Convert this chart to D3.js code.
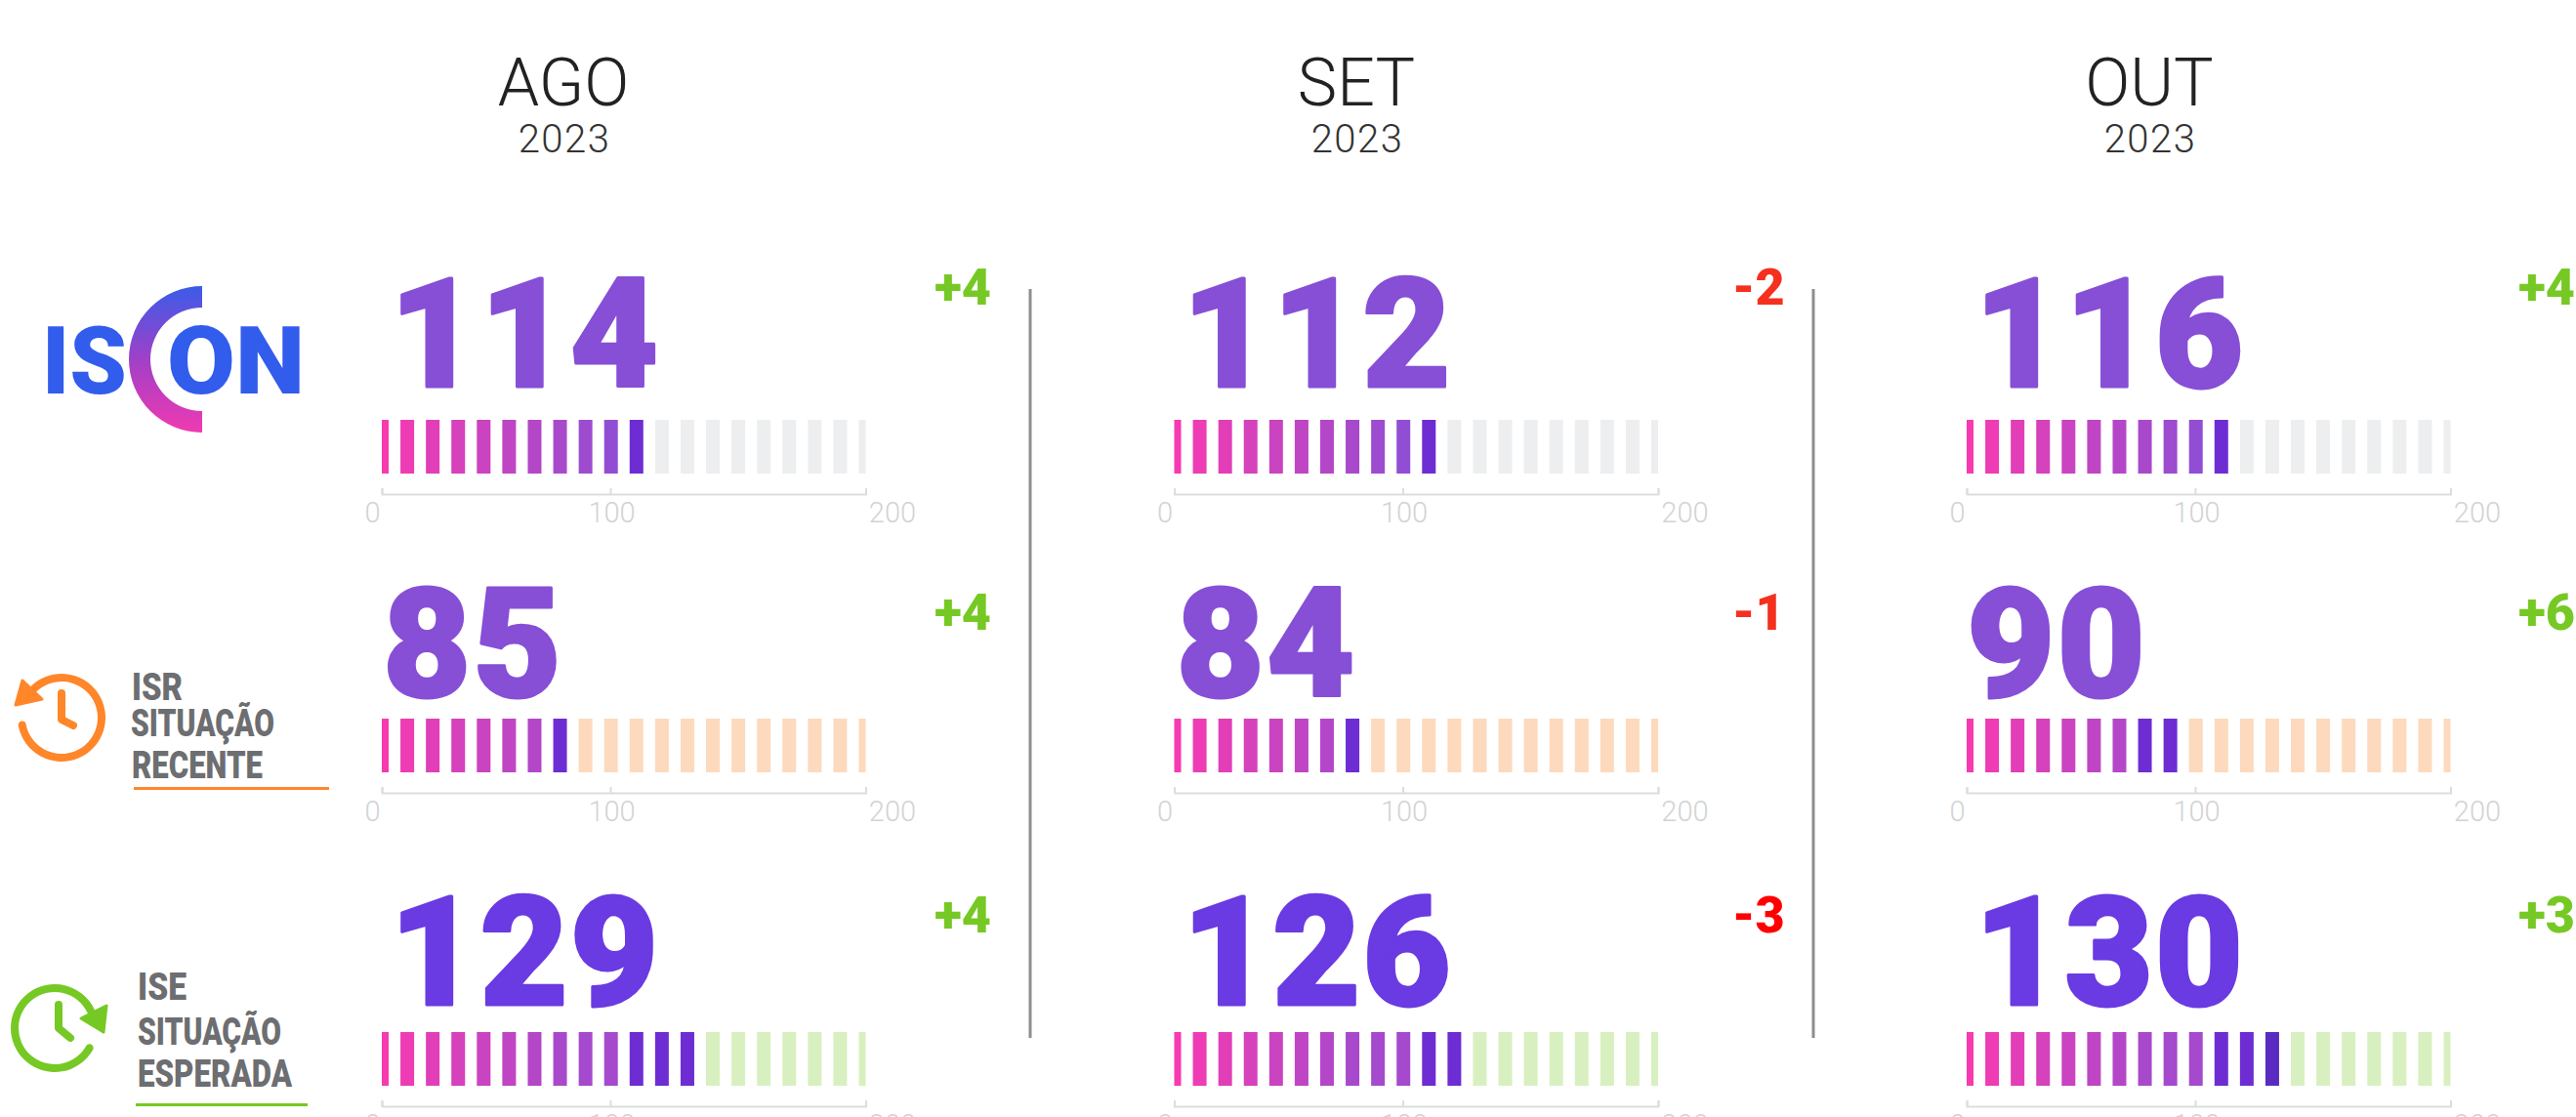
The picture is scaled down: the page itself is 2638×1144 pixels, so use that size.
<!DOCTYPE html>
<html lang="en">
  <head>
    <meta charset="UTF-8">
    <title>ISCON</title>
    <style>
      body { margin: 0; background: white; overflow: hidden; }
      svg { display: block; font-family: Roboto, sans-serif; }
      .month { font-size: 68px; font-weight: 300; fill: #222; text-anchor: middle; }
      .year { font-size: 40px; font-weight: 300; letter-spacing: 1.5px; fill: #333; text-anchor: middle; }
      .score { font-size: 156px; font-weight: 900; letter-spacing: 2px; stroke-width: 3px; stroke-linejoin: round; }
      .delta { font-size: 52px; font-weight: 900; }
      .side { font-size: 39px; font-weight: 900; fill: #6d6e71; }
      .axis path, .axis line { stroke: #dcddde; stroke-width: 2; fill: none; }
      .axis text { font-family: Roboto, sans-serif; font-size: 29px; font-weight: 300; fill: #d2d3d5; }
    </style>
    <script src="https://d3js.org/d3.v7.min.js"></script>
  </head>
  <body>
    <script>
      const width = 2638;
      const height = 1144;

      // data
      const months = ["AGO", "SET", "OUT"];
      const years = ["2023", "2023", "2023"];
      const indices = ["ISCON", "ISR", "ISE"];
      const scores = [[114, 112, 116], [85, 84, 90], [129, 126, 130]];
      const deltas = [["+4", "-2", "+4"], ["+4", "-1", "+6"], ["+4", "-3", "+3"]];
      // lit cells and how many of them are the dark ones at the end
      const litCells = [[11, 11, 11], [8, 8, 9], [13, 12, 13]];
      const darkCells = [[1, 1, 1], [1, 1, 2], [3, 2, 3]];
      const cellSteps = d3.range(0, 200, 10);
      const axisTicks = [0, 100, 200];
      const rowColors = ["#864fd6", "#864fd6", "#6a3ae2"];
      const restColors = ["#edeef0", "#fddabd", "#d8f0c0"];

      // layout
      const colX = [391, 1202.5, 2014];
      const monthX = [577, 1389, 2201];
      const yearX = [578, 1390, 2202];
      const barY = [430, 736, 1057];
      const axisY = [506, 812, 1133];
      const scoreBase = [396, 713, 1029];
      const scoreOffset = [[8, 8, 8], [1, 2, 0], [8, 8, 8]];
      const deltaBase = [312, 645, 955];
      const deltaX = [957, 1774, 2579];

      const svg = d3.select("body")
        .append("svg")
        .attr("width", width)
        .attr("height", height);

      const defs = svg.append("defs");

      const x = d3.scaleLinear().domain([0, 190]).range([0, 495.5]);
      // the printed axis is not even: 100 sits left of the middle
      const xAxis = d3.scaleLinear().domain([0, 100, 200]).range([0, 234, 495.5]);
      const cellRamp = d3.scaleLinear().domain([0, 100]).range(["#f83ab0", "#8650d8"]);
      const labelShift = { 0: -10, 100: 1, 200: 27 };

      defs.append("clipPath")
        .attr("id", "cells")
        .append("rect")
        .attr("width", 495.5)
        .attr("height", 55);

      months.forEach((m, c) => {
        svg.append("text").attr("class", "month").attr("x", monthX[c]).attr("y", 108).text(m);
        svg.append("text").attr("class", "year").attr("x", yearX[c]).attr("y", 156).text(years[c]);

        indices.forEach((name, r) => {
          const lit = litCells[r][c];
          const dark = darkCells[r][c];
          const g = svg.append("g").attr("transform", `translate(${colX[c]},0)`);

          svg.append("text")
            .attr("class", "score")
            .attr("x", colX[c] + scoreOffset[r][c])
            .attr("y", scoreBase[r])
            .attr("fill", rowColors[r])
            .attr("stroke", rowColors[r])
            .text(scores[r][c]);

          svg.append("text")
            .attr("class", "delta")
            .attr("x", deltaX[c])
            .attr("y", deltaBase[r])
            .attr("fill", deltas[r][c][0] === "+" ? "#76c925" : (r === 2 ? "#ff0000" : "#f5301e"))
            .text(deltas[r][c]);

          g.append("g")
            .attr("transform", `translate(0,${barY[r]})`)
            .attr("clip-path", "url(#cells)")
            .selectAll("rect")
            .data(cellSteps)
            .enter()
            .append("rect")
            .attr("x", d => x(d) - 7)
            .attr("width", 14)
            .attr("height", 55)
            .attr("fill", (d, i) => {
              if (i >= lit) return restColors[r];
              if (i === 12 && c === 2) return "#5a2bc0";
              if (i >= lit - dark) return "#6e2dd3";
              return cellRamp(r === 2 ? Math.min(d, 72) : d);
            });

          const axis = g.append("g")
            .attr("class", "axis")
            .attr("transform", `translate(0,${axisY[r]})`)
            .call(d3.axisTop(xAxis).tickValues(axisTicks).tickSize(6).tickFormat(d3.format("d")));

          axis.selectAll("text")
            .attr("y", 29)
            .attr("dy", 0)
            .attr("dx", d => labelShift[d]);
        });
      });

      // dividers between the months
      svg.selectAll(".divider")
        .data([1055, 1857])
        .enter()
        .append("line")
        .attr("class", "divider")
        .attr("x1", d => d)
        .attr("x2", d => d)
        .attr("y1", 296)
        .attr("y2", 1063)
        .attr("stroke", "#8e8e8e")
        .attr("stroke-width", 3);

      // ISCON logo
      const grad = defs.append("linearGradient")
        .attr("id", "logoC")
        .attr("x1", 0).attr("x2", 0).attr("y1", 0).attr("y2", 1);
      grad.append("stop").attr("offset", "0%").attr("stop-color", "#3a5ce8");
      grad.append("stop").attr("offset", "50%").attr("stop-color", "#a040c8");
      grad.append("stop").attr("offset", "100%").attr("stop-color", "#f03ab0");

      svg.append("path")
        .attr("transform", "translate(207,368)")
        .attr("d", d3.arc()({ innerRadius: 53, outerRadius: 75, startAngle: Math.PI, endAngle: 2 * Math.PI }))
        .attr("fill", "url(#logoC)");

      [["IS", 43, 87], ["ON", 171, 141]].forEach(([t, tx, tw]) => {
        svg.append("text")
          .attr("x", tx)
          .attr("y", 403)
          .attr("textLength", tw)
          .attr("lengthAdjust", "spacingAndGlyphs")
          .attr("font-size", 96)
          .attr("font-weight", 900)
          .attr("fill", "#325cec")
          .text(t);
      });

      // side labels with clock icons
      const deg = Math.PI / 180;
      const clock = (cx, cy, color, a0, a1, arrow, hand) => {
        svg.append("path")
          .attr("transform", `translate(${cx},${cy})`)
          .attr("d", d3.arc().cornerRadius(4)({ innerRadius: 37, outerRadius: 45, startAngle: a0 * deg, endAngle: a1 * deg }))
          .attr("fill", color);
        svg.append("path")
          .attr("d", d3.line()(arrow) + "Z")
          .attr("fill", color)
          .attr("stroke", color)
          .attr("stroke-width", 3)
          .attr("stroke-linejoin", "round");
        svg.append("path")
          .attr("d", d3.line()(hand))
          .attr("fill", "none")
          .attr("stroke", color)
          .attr("stroke-width", 8)
          .attr("stroke-linecap", "round")
          .attr("stroke-linejoin", "round");
      };

      clock(63, 735, "#ff8629", -52, 265,
        [[16, 722], [23, 697], [43, 716]],
        [[63, 710], [63, 737], [75, 743]]);
      clock(56, 1053, "#76c925", 114, 430,
        [[109, 1030], [106, 1057], [83, 1043]],
        [[60, 1029], [60, 1053], [72, 1063]]);

      const sideLabels = [
        ["ISR", 135, 717, 52], ["SITUAÇÃO", 134, 754, 147], ["RECENTE", 135, 797, 134],
        ["ISE", 141, 1024, 50], ["SITUAÇÃO", 141, 1070, 147], ["ESPERADA", 141, 1113, 158]
      ];

      svg.selectAll(".side")
        .data(sideLabels)
        .enter()
        .append("text")
        .attr("class", "side")
        .attr("x", d => d[1])
        .attr("y", d => d[2])
        .attr("textLength", d => d[3])
        .attr("lengthAdjust", "spacingAndGlyphs")
        .text(d => d[0]);

      svg.append("rect").attr("x", 137).attr("y", 806).attr("width", 200).attr("height", 3).attr("fill", "#ff8629");
      svg.append("rect").attr("x", 139).attr("y", 1130).attr("width", 176).attr("height", 3).attr("fill", "#76c925");
    </script>
  </body>
</html>
